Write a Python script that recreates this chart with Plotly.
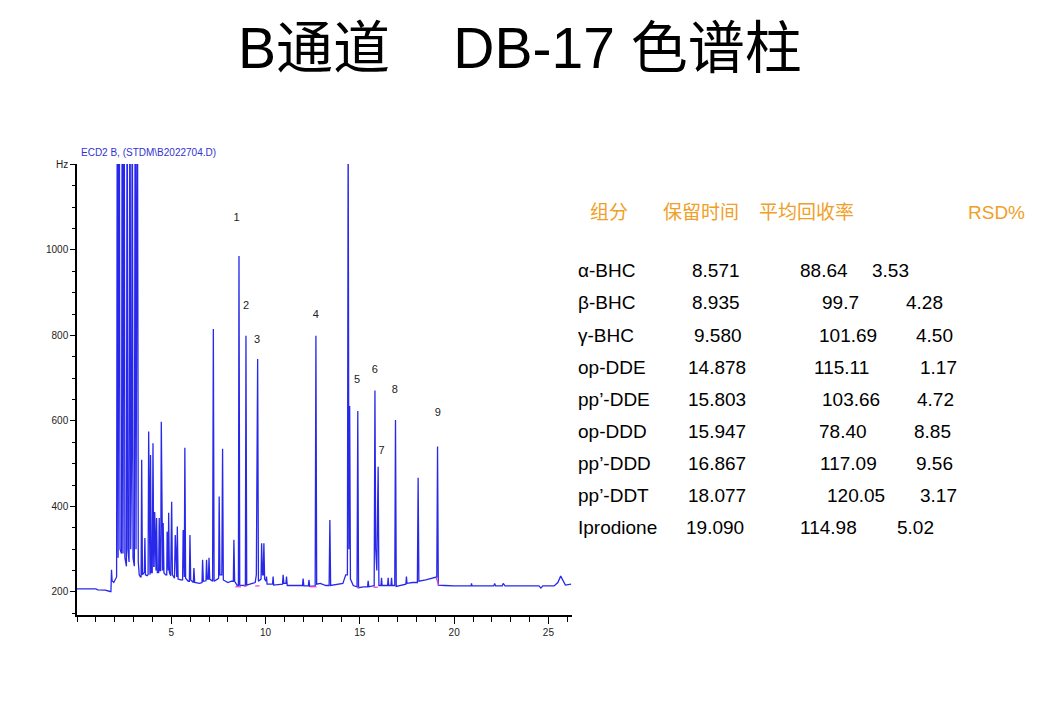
import plotly.graph_objects as go

W, H = 1040, 720
L, R, T, B = 77, 468, 164, 105

# ---- chromatogram trace (retention time in min, signal in Hz) ----
time_min = [0.0, 1.0, 1.1, 1.4, 1.5, 1.75, 1.80, 1.83, 1.86, 1.95, 2.05, 2.10,
            2.14, 2.18, 2.24, 2.28, 2.36, 2.40, 2.44, 2.50, 2.54, 2.62, 2.66, 2.70,
            2.76, 2.81, 2.85, 2.90, 2.93, 2.97, 3.04, 3.09, 3.13, 3.20, 3.25, 3.30,
            3.36, 3.40, 3.43, 3.47, 3.55, 3.57, 3.60, 3.63, 3.72, 3.77, 3.80, 3.84,
            3.87, 3.90, 3.94, 3.99, 4.03, 4.07, 4.09, 4.12, 4.16, 4.19, 4.22, 4.26,
            4.33, 4.36, 4.40, 4.44, 4.47, 4.51, 4.54, 4.57, 4.61, 4.70, 4.76, 4.78,
            4.82, 4.84, 4.86, 4.90, 4.97, 5.02, 5.06, 5.14, 5.17, 5.21, 5.25, 5.29,
            5.32, 5.36, 5.50, 5.60, 5.63, 5.67, 5.69, 5.72, 5.76, 5.90, 5.96, 5.99,
            6.03, 6.17, 6.20, 6.24, 6.50, 6.63, 6.66, 6.70, 6.84, 6.87, 6.91, 6.97,
            7.00, 7.04, 7.19, 7.23, 7.27, 7.45, 7.51, 7.54, 7.58, 7.68, 7.72, 7.76,
            8.00, 8.20, 8.29, 8.32, 8.36, 8.50, 8.56, 8.59, 8.63, 8.85, 8.93, 8.96,
            9.00, 9.30, 9.45, 9.51, 9.53, 9.58, 9.62, 9.72, 9.76, 9.79, 9.84, 9.88,
            9.91, 9.95, 10.02, 10.05, 10.08, 10.37, 10.40, 10.43, 10.70, 10.90, 10.93, 10.97,
            11.08, 11.11, 11.15, 11.50, 11.96, 11.99, 12.03, 12.27, 12.30, 12.34, 12.55, 12.63,
            12.67, 12.71, 12.90, 13.20, 13.37, 13.41, 13.45, 13.80, 14.10, 14.25, 14.34, 14.38,
            14.42, 14.46, 14.50, 14.65, 14.85, 14.89, 14.93, 15.20, 15.41, 15.44, 15.48, 15.70,
            15.76, 15.80, 15.84, 15.90, 15.97, 16.01, 16.12, 16.15, 16.18, 16.47, 16.50, 16.53,
            16.65, 16.68, 16.71, 16.85, 16.89, 16.93, 17.20, 17.44, 17.47, 17.50, 17.80, 18.05,
            18.09, 18.13, 18.50, 18.80, 19.08, 19.12, 19.16, 19.50, 20.00, 20.90, 20.92, 20.95,
            22.10, 22.15, 22.20, 22.55, 22.60, 22.70, 24.50, 24.60, 24.70, 25.30, 25.50, 25.65,
            25.80, 25.90, 26.20]
signal_hz = [207, 207, 205, 205, 204, 201, 201, 252, 226, 222, 232, 235,
             1600, 280, 1600, 300, 290, 1600, 290, 1600, 280, 260, 1600, 300,
             270, 1600, 300, 549, 1600, 280, 260, 1600, 300, 1600, 270, 240,
             235, 235, 509, 240, 245, 245, 326, 240, 238, 240, 575, 240,
             240, 520, 245, 245, 548, 260, 260, 387, 250, 250, 373, 245,
             245, 373, 250, 250, 598, 250, 250, 361, 245, 240, 240, 341,
             250, 250, 385, 245, 238, 411, 240, 232, 232, 333, 235, 235,
             353, 230, 228, 228, 345, 235, 235, 537, 232, 225, 225, 333,
             228, 222, 256, 222, 220, 222, 275, 225, 226, 275, 230, 230,
             280, 230, 225, 815, 225, 230, 232, 423, 240, 240, 535, 228,
             222, 225, 225, 322, 225, 215, 215, 986, 216, 215, 215, 799,
             216, 220, 222, 240, 385, 745, 225, 230, 230, 314, 240, 240,
             314, 230, 225, 236, 218, 218, 236, 216, 218, 218, 240, 220,
             220, 236, 215, 215, 215, 231, 214, 214, 228, 213, 214, 214,
             799, 218, 220, 215, 215, 368, 215, 218, 220, 240, 240, 1300,
             300, 635, 230, 215, 212, 623, 210, 212, 212, 226, 212, 214,
             214, 671, 300, 250, 493, 215, 215, 233, 215, 215, 233, 215,
             215, 233, 215, 215, 602, 213, 215, 218, 236, 220, 222, 222,
             467, 225, 228, 232, 235, 540, 216, 215, 214, 214, 220, 214,
             214, 220, 214, 214, 220, 214, 214, 209, 214, 214, 222, 237,
             224, 216, 218]

# integration baseline marks (magenta)
integ_t = [8.40, 8.70, None, 8.85, 9.02, None, 9.45, 9.68, None, 12.35, 12.70, None,
           14.85, 14.95, None, 15.72, 15.95, None, 19.05, 19.18]
integ_y = [212, 212, None, 214, 214, None, 214, 214, None, 212, 212, None,
           210, 210, None, 211, 211, None, 233, 216]

# peak numbers
peak_labels = ["1", "2", "3", "4", "5", "6", "7", "8", "9"]
label_t = [8.46, 8.96, 9.55, 12.67, 14.85, 15.79, 16.15, 16.85, 19.13]
label_y = [1075, 868, 788, 848, 696, 718, 528, 672, 619]

# axis ticks
x_tickvals = [5, 10, 15, 20, 25]
y_tickvals = [200, 400, 600, 800, 1000, 1200]
y_ticktext = ["200", "400", "600", "800", "1000", "Hz"]

# ---- table ----
headers = ["组分", "保留时间", "平均回收率", "RSD%"]
components = ["α-BHC", "β-BHC", "γ-BHC", "op-DDE", "pp’-DDE", "op-DDD", "pp’-DDD", "pp’-DDT", "Iprodione"]
ret_times = ["8.571", "8.935", "9.580", "14.878", "15.803", "15.947", "16.867", "18.077", "19.090"]
recoveries = ["88.64", "99.7", "101.69", "115.11", "103.66", "78.40", "117.09", "120.05", "114.98"]
rsds = ["3.53", "4.28", "4.50", "1.17", "4.72", "8.85", "9.56", "3.17", "5.02"]

# table layout (pixel positions)
header_px = [588, 661, 757, 966]
header_py = 212
row_py = [270, 302, 335, 367, 399, 431, 463, 495, 527]
name_px = 576
time_px = [690, 690, 692, 686, 686, 686, 686, 686, 684]
rec_px = [798, 820, 817, 812, 820, 817, 818, 825, 798]
rsd_px = [870, 904, 914, 918, 915, 912, 914, 918, 895]


def px(xp):
    return (xp - L) / (W - L - R)


def py(yp):
    return (H - B - yp) / (H - T - B)


LAT = "Liberation Sans, Arial, Noto Sans CJK SC, sans-serif"
NARROW = "Liberation Sans Narrow, Liberation Sans, Arial, sans-serif"

fig = go.Figure()
fig.add_trace(go.Scatter(x=time_min, y=signal_hz, mode="lines",
                         line=dict(color="rgb(40,40,235)", width=1.3),
                         hoverinfo="skip", showlegend=False))
fig.add_trace(go.Scatter(x=integ_t, y=integ_y, mode="lines",
                         line=dict(color="rgb(230,60,200)", width=1.2),
                         hoverinfo="skip", showlegend=False, connectgaps=False))
fig.add_trace(go.Scatter(x=label_t, y=label_y, mode="text", text=peak_labels,
                         textfont=dict(family=NARROW, size=11, color="#222222"),
                         hoverinfo="skip", showlegend=False))

ann = []
ann.append(dict(text="B通道\u00a0\u00a0\u00a0\u00a0DB-17 色谱柱", x=px(520), y=py(48),
                xref="paper", yref="paper", xanchor="center", yanchor="middle",
                showarrow=False, font=dict(family=LAT, size=57, color="black")))
ann.append(dict(text="ECD2 B, (STDM\\B2022704.D)", x=px(79), y=py(152),
                xref="paper", yref="paper", xanchor="left", yanchor="middle",
                showarrow=False, font=dict(family=NARROW, size=10, color="rgb(50,50,210)")))
for h, hx in zip(headers, header_px):
    ann.append(dict(text=h, x=px(hx), y=py(header_py), xref="paper", yref="paper",
                    xanchor="left", yanchor="middle", showarrow=False,
                    font=dict(family=LAT, size=19, color="rgb(240,160,40)")))
for i in range(len(components)):
    for txt, xp in ((components[i], name_px), (ret_times[i], time_px[i]),
                    (recoveries[i], rec_px[i]), (rsds[i], rsd_px[i])):
        ann.append(dict(text=txt, x=px(xp), y=py(row_py[i]), xref="paper", yref="paper",
                        xanchor="left", yanchor="middle", showarrow=False,
                        font=dict(family=LAT, size=19, color="black")))

fig.update_layout(
    width=W, height=H, margin=dict(l=L, r=R, t=T, b=B),
    paper_bgcolor="white", plot_bgcolor="white",
    annotations=ann,
    xaxis=dict(range=[0, 26.25], tickvals=x_tickvals, ticks="outside", ticklen=7,
               tickwidth=1, tickcolor="black", showline=True, linecolor="black", linewidth=1.5,
               showgrid=False, zeroline=False,
               minor=dict(dtick=1, tick0=0, ticks="outside", ticklen=5, tickcolor="black", showgrid=False),
               tickfont=dict(family=NARROW, size=10, color="#222")),
    yaxis=dict(range=[146, 1201], tickvals=y_tickvals, ticktext=y_ticktext, ticks="outside",
               ticklen=5, tickwidth=1, tickcolor="black", showline=True, linecolor="black",
               linewidth=1.5, showgrid=False, zeroline=False,
               minor=dict(dtick=50, tick0=0, ticks="outside", ticklen=3, tickcolor="black", showgrid=False),
               tickfont=dict(family=NARROW, size=10, color="#222")),
)

fig.write_html("out.html")
